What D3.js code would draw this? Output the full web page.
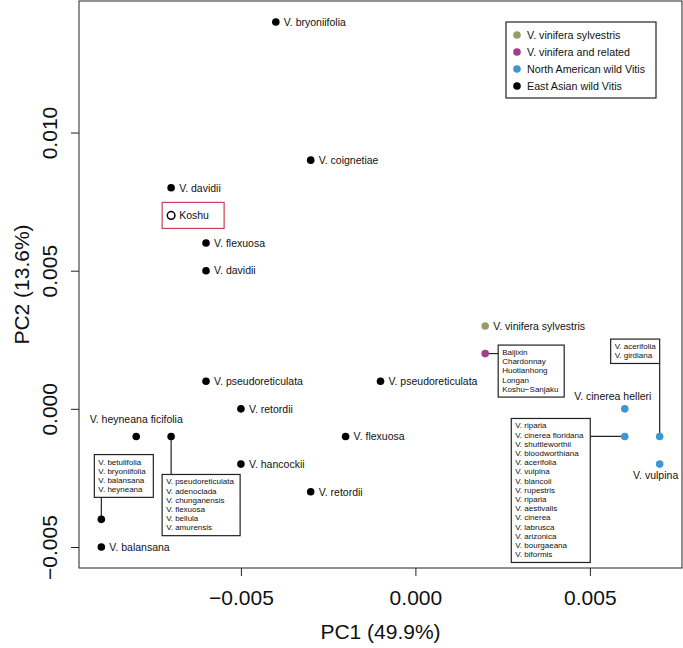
<!DOCTYPE html>
<html><head><meta charset="utf-8">
<script src="https://cdn.jsdelivr.net/npm/d3@7"></script>
<style>body{margin:0;background:#fff}svg{display:block;font-family:"Liberation Sans",Arial,Helvetica,sans-serif}</style>
</head><body><svg id="c" width="683" height="648"></svg>
<script>
// ---------- data ----------
const groups = ["V. vinifera sylvestris", "V. vinifera and related", "North American wild Vitis", "East Asian wild Vitis"];
const groupColors = ["#9b9a6b", "#9e3f8e", "#3d97d3", "#000000"];

const names = ["V. bryoniifolia", "V. coignetiae", "V. davidii", "Koshu", "V. flexuosa", "V. davidii",
  "V. vinifera sylvestris", "cultivars", "V. pseudoreticulata", "V. pseudoreticulata", "V. retordii",
  "V. heyneana ficifolia", "EA group 2", "V. flexuosa", "V. hancockii", "V. retordii", "EA group 1",
  "V. balansana", "V. cinerea helleri", "NA group 1", "NA group 2", "V. vulpina"];
const pc1 = [-0.004, -0.003, -0.007, -0.007, -0.006, -0.006, 0.002, 0.002, -0.006, -0.001, -0.005,
  -0.008, -0.007, -0.002, -0.005, -0.003, -0.009, -0.009, 0.006, 0.006, 0.007, 0.007];
const pc2 = [0.014, 0.009, 0.008, 0.007, 0.006, 0.005, 0.003, 0.002, 0.001, 0.001, 0.000,
  -0.001, -0.001, -0.001, -0.002, -0.003, -0.004, -0.005, 0.000, -0.001, -0.001, -0.002];
const group = [3, 3, 3, -1, 3, 3, 0, 1, 3, 3, 3, 3, 3, 3, 3, 3, 3, 3, 2, 2, 2, 2];

const cultivarList = ["Baijixin", "Chardonnay", "Huotianhong", "Longan", "Koshu\u2212Sanjaku"];
const eaList1 = ["V. betulifolia", "V. bryoniifolia", "V. balansana", "V. heyneana"];
const eaList2 = ["V. pseudoreticulata", "V. adenoclada", "V. chunganensis", "V. flexuosa", "V. bellula", "V. amurensis"];
const naList1 = ["V. riparia", "V. cinerea floridana", "V. shuttleworthii", "V. bloodworthiana", "V. acerifolia",
  "V. vulpina", "V. blancoii", "V. rupestris", "V. riparia", "V. aestivalis", "V. cinerea", "V. labrusca",
  "V. arizonica", "V. bourgaeana", "V. biformis"];
const naList2 = ["V. acerifolia", "V. girdiana"];

const xTicks = [-0.005, 0.000, 0.005];
const yTicks = [-0.005, 0.000, 0.005, 0.010];
const xTitle = "PC1 (49.9%)";
const yTitle = "PC2 (13.6%)";

// ---------- drawing ----------
const svg = d3.select("#c");
const plot = {l: 79, r: 682, t: 1, b: 568};
const x = d3.scaleLinear().domain([-0.00964, 0.00764]).range([plot.l, plot.r]);
const y = d3.scaleLinear().domain([-0.00576, 0.01476]).range([plot.b, plot.t]);

const fmt = d3.format(".3f");
const tickFmt = v => (v < 0 ? "\u2212" : "") + fmt(Math.abs(v));

// frame
svg.append("rect").attr("x", plot.l).attr("y", plot.t).attr("width", plot.r - plot.l).attr("height", plot.b - plot.t)
  .attr("fill", "none").attr("stroke", "#222").attr("stroke-width", 1);

// x axis
const xa = svg.append("g").attr("transform", `translate(0,${plot.b})`)
  .call(d3.axisBottom(x).tickValues(xTicks).tickFormat(tickFmt).tickSize(8).tickPadding(14));
xa.select(".domain").remove();
xa.selectAll("line").attr("stroke", "#222");
xa.selectAll("text").attr("font-size", 21).attr("fill", "#111").attr("font-family", "Liberation Sans, Arial, sans-serif");

// y axis
const ya = svg.append("g").attr("transform", `translate(${plot.l},0)`)
  .call(d3.axisLeft(y).tickValues(yTicks).tickFormat(tickFmt).tickSize(8));
ya.select(".domain").remove();
ya.selectAll("line").attr("stroke", "#222");
ya.selectAll("text").attr("font-size", 21).attr("fill", "#111").attr("font-family", "Liberation Sans, Arial, sans-serif")
  .attr("x", null).attr("dy", null).attr("text-anchor", "middle")
  .attr("transform", "translate(-22,0) rotate(-90)");

// titles
svg.append("text").attr("x", (plot.l + plot.r) / 2).attr("y", 639).attr("text-anchor", "middle")
  .attr("font-size", 21).attr("fill", "#111").text(xTitle);
svg.append("text").attr("transform", `translate(29,${(plot.t + plot.b) / 2}) rotate(-90)`).attr("text-anchor", "middle")
  .attr("font-size", 21).attr("fill", "#111").text(yTitle);

const pts = names.map((n, i) => ({name: n, px: x(pc1[i]), py: y(pc2[i]), g: group[i]}));
const labelSize = 10.5, boxSize = 8, boxLead = 9.2;

function listBox(items, bx, by, bw) {
  const bh = items.length * boxLead + 6;
  svg.append("rect").attr("x", bx).attr("y", by).attr("width", bw).attr("height", bh)
    .attr("fill", "#fff").attr("stroke", "#222").attr("stroke-width", 1.2);
  svg.append("g").selectAll("text").data(items).join("text")
    .attr("x", bx + 4).attr("y", (d, i) => by + 10 + i * boxLead)
    .attr("font-size", boxSize).attr("fill", "#111").text(d => d);
  return bh;
}
function link(x1, y1, x2, y2) {
  svg.append("line").attr("x1", x1).attr("y1", y1).attr("x2", x2).attr("y2", y2)
    .attr("stroke", "#222").attr("stroke-width", 1.2);
}

{
  const p = pts[7];
  link(p.px, p.py, p.px + 13, p.py);
  listBox(cultivarList, p.px + 13, p.py - 8.5, 66);
}
{
  const p = pts[16];
  const bh = eaList1.length * boxLead + 6;
  link(p.px, p.py, p.px, p.py - 22);
  listBox(eaList1, p.px - 7, p.py - 22 - bh, 59);
}
{
  const p = pts[12];
  link(p.px, p.py, p.px, p.py + 38);
  listBox(eaList2, p.px - 9, p.py + 38, 78);
}
{
  const p = pts[19];
  link(p.px, p.py, p.px - 34.5, p.py);
  listBox(naList1, p.px - 34.5 - 79, p.py - 18, 79);
}
{
  const p = pts[20];
  const bh = naList2.length * boxLead + 6;
  link(p.px, p.py, p.px, p.py - 73);
  listBox(naList2, p.px - 49, p.py - 73 - bh, 49);
}

{
  const p = pts[3];
  svg.append("rect").attr("x", p.px - 9).attr("y", p.py - 13).attr("width", 62).attr("height", 26)
    .attr("fill", "#fff").attr("stroke", "#cf3f55").attr("stroke-width", 1.2);
}

svg.append("g").selectAll("circle").data(pts).join("circle")
  .attr("cx", d => d.px).attr("cy", d => d.py).attr("r", 3.8)
  .attr("fill", d => d.g < 0 ? "#fff" : groupColors[d.g])
  .attr("stroke", d => d.g < 0 ? "#000" : "none").attr("stroke-width", 1.5);

const rightLabels = [0, 1, 2, 3, 4, 5, 6, 8, 9, 10, 13, 14, 15, 17];
svg.append("g").selectAll("text").data(rightLabels.map(i => pts[i])).join("text")
  .attr("x", d => d.px + 8).attr("y", d => d.py + 3.8)
  .attr("font-size", labelSize).attr("fill", "#111").text(d => d.name);
{
  const p = pts[11];
  svg.append("text").attr("x", p.px).attr("y", p.py - 13).attr("text-anchor", "middle")
    .attr("font-size", labelSize).attr("fill", "#111").text(p.name);
}
{
  const p = pts[18];
  svg.append("text").attr("x", p.px - 12).attr("y", p.py - 9).attr("text-anchor", "middle")
    .attr("font-size", labelSize).attr("fill", "#111").text(p.name);
}
{
  const p = pts[21];
  svg.append("text").attr("x", p.px - 4).attr("y", p.py + 15).attr("text-anchor", "middle")
    .attr("font-size", labelSize).attr("fill", "#111").text(p.name);
}

{
  const lx = 506, ly = 22, lw = 150, lh = 76, step = 17;
  svg.append("rect").attr("x", lx).attr("y", ly).attr("width", lw).attr("height", lh)
    .attr("fill", "#fff").attr("stroke", "#222").attr("stroke-width", 1.2);
  const lg = svg.append("g").selectAll("g").data(groups).join("g")
    .attr("transform", (d, i) => `translate(${lx},${ly + 13 + i * step})`);
  lg.append("circle").attr("cx", 11).attr("cy", 0).attr("r", 3.8).attr("fill", (d, i) => groupColors[i]);
  lg.append("text").attr("x", 21).attr("y", 3.8).attr("font-size", 10.7).attr("fill", "#111").text(d => d);
}
</script></body></html>
